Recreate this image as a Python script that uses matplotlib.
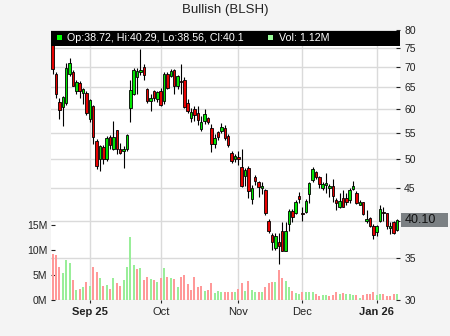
import matplotlib
matplotlib.use('Agg')
import matplotlib.pyplot as plt
import numpy as np
import pandas as pd
from matplotlib.patches import Rectangle
from matplotlib.ticker import NullLocator

plt.rcParams['font.family'] = ['Liberation Sans', 'DejaVu Sans']

# trading days shown (US market holidays removed)
holidays = ['2025-09-01', '2025-11-27', '2025-12-25', '2026-01-01']
dates = pd.bdate_range('2025-08-15', '2026-01-12', freq='C', holidays=holidays)

opens = [77, 68.3, 61.7, 60.4, 61.3, 68.2, 68.8, 64, 66, 63.7,
         63.6, 57.9, 60.6, 53.5, 50.1, 52.3, 50.1, 54.2, 52, 55.6,
         52, 51.5, 51.9, 60.2, 63.4, 67.4, 68.8, 70, 64.5, 61.8,
         64, 62.2, 64.1, 61.8, 68.3, 67.8, 69.1, 65.2, 66.5, 66.8,
         61.4, 58.1, 60.1, 59.2, 55.8, 57.5, 58.1, 56, 52.9, 55.2,
         55.5, 56.1, 54.4, 51.2, 50, 50.5, 48.7, 47.1, 48.4, 43.3,
         46.9, 46, 45, 44.7, 39.9, 38, 36.2, 37, 38.5, 35.9,
         39.6, 41.5, 41.2, 43.7, 41.2, 41.3, 44.1, 46.4, 47.7, 46.9,
         45, 45.6, 45.1, 45.4, 43.2, 42, 43.4, 43.4, 43.2, 44.9,
         44.3, 42.4, 42.8, 39.9, 40.4, 39.2, 38.4, 40, 41.3, 41.1,
         39, 39.8, 38.72]
highs = [79, 68.8, 62.5, 62.9, 71, 72.2, 69.3, 66.8, 66.5, 64.8,
         64, 62.3, 60.9, 53.8, 52.7, 52.6, 54.4, 54.6, 57.5, 55.7,
         53, 52.5, 54.9, 66.8, 69.7, 69.7, 74.7, 70.6, 64.9, 63.4,
         64.4, 64.2, 64.9, 68.6, 68.8, 69.4, 69.4, 68, 70.6, 67.4,
         62.2, 60.3, 60.7, 60.6, 58.6, 60.1, 58.4, 56.8, 54.8, 55.5,
         57, 56.6, 54.8, 51.6, 50.9, 51.6, 52, 48.4, 48.8, 45.6,
         47.3, 46.3, 46.1, 44.9, 40.3, 38.2, 38.2, 38.2, 39.8, 39.8,
         41.7, 41.8, 43.1, 44.4, 42, 43.3, 46.1, 48.7, 47.9, 47.1,
         46, 47.6, 45.7, 46.6, 43.4, 44.2, 44.8, 44.2, 45, 46.2,
         44.5, 43.1, 42.9, 41.6, 40.6, 39.5, 39.4, 42.4, 42, 41.2,
         39.8, 39.9, 40.29]
lows = [68.3, 62.5, 57.9, 56.5, 61, 67.8, 65.2, 63.4, 62.4, 61.1,
        58.7, 57.3, 52.9, 48.3, 47.9, 49.2, 49.7, 51.9, 51.7, 51,
        50.9, 48.5, 51.5, 57.2, 63.2, 63.4, 68, 66.6, 61.3, 59.6,
        61.8, 61.6, 60.7, 61.2, 64.6, 67.4, 63.4, 64.6, 63.4, 60.2,
        59.2, 57.2, 57.4, 56.6, 55.4, 56.9, 56.9, 51.3, 52.2, 53.6,
        55, 53.6, 52.3, 49.4, 49.6, 49, 45.3, 45.4, 43.4, 42.5,
        45.6, 43.6, 44.1, 40.9, 38.3, 36, 36, 34.2, 35.8, 35.9,
        38.6, 39.8, 41, 42.6, 39.9, 41.1, 42.7, 46.1, 46.6, 45,
        44.8, 44.2, 43.6, 42.9, 41.6, 41.9, 42, 42.3, 42.6, 44.7,
        42.5, 42.3, 40.9, 39.7, 39.1, 37.4, 37.9, 39.8, 39.9, 38.8,
        38.1, 38.1, 38.56]
closes = [69.5, 63.5, 59.8, 62.8, 69.7, 71, 65.3, 66.3, 64, 64.5,
          59.2, 62.1, 54.3, 48.9, 52.5, 50, 54.1, 52.7, 54.2, 51.9,
          51.2, 52, 54.6, 64.4, 69.3, 69.0, 69.2, 68, 61.8, 62.6,
          62.4, 63.8, 60.9, 68.2, 64.9, 68.9, 65.3, 67.6, 66.2, 60.5,
          59.7, 59.4, 58.7, 57.6, 57.2, 59, 57.3, 52.9, 54, 54.3,
          56.2, 54.1, 52.6, 49.7, 50.6, 50.1, 45.4, 48.1, 44.5, 45,
          46.3, 45.2, 45.4, 41.1, 38.6, 37, 37.9, 36.5, 35.9, 38.6,
          41.5, 40.5, 42.8, 43.3, 41, 43, 45.9, 48.3, 46.9, 45.7,
          45.8, 45.9, 45.4, 43.7, 42.7, 43, 42.1, 42.8, 44.7, 45.4,
          42.6, 42.9, 41, 40.3, 39.2, 38, 39.2, 41.8, 41.1, 39.3,
          39.25, 38.3, 40.1]
# volume in millions
volumes = [9.3, 9.1, 6.6, 5.5, 8.0, 7.5, 4.0, 2.1, 2.3, 2.6,
           3.6, 2.9, 6.6, 5.6, 4.4, 2.8, 3.0, 2.2, 4.4, 3.4,
           2.8, 4.0, 6.6, 12.6, 7.0, 6.2, 6.4, 4.0, 4.6, 4.2,
           4.0, 3.6, 4.4, 6.4, 4.6, 4.4, 4.2, 2.6, 4.6, 5.0,
           3.2, 2.0, 4.7, 2.6, 2.8, 1.8, 2.0, 3.4, 1.4, 1.8,
           1.6, 1.7, 1.6, 1.7, 1.7, 2.2, 3.5, 1.9, 3.8, 2.0,
           1.7, 1.6, 1.6, 2.6, 3.5, 3.6, 3.7, 6.0, 4.4, 3.9,
           2.7, 1.9, 1.5, 1.3, 1.7, 1.7, 1.7, 1.7, 1.2, 0.8,
           1.0, 1.0, 0.8, 1.0, 1.7, 1.2, 1.5, 1.2, 1.2, 1.0,
           1.0, 0.5, 1.0, 1.2, 1.2, 1.7, 1.1, 1.2, 1.3, 0.8,
           0.8, 1.2, 1.12]

price_ticks = [30, 35, 40, 45, 50, 55, 60, 65, 70, 75, 80]
vol_ticks = [0, 5, 10, 15]

x = np.arange(len(dates))
o = np.array(opens); h = np.array(highs); l = np.array(lows); c = np.array(closes)
up = c >= o
prev = np.r_[o[0], c[:-1]]
vol_up = c > prev

fig = plt.figure(figsize=(4.5, 3.36), dpi=100, facecolor='#f4f4f4')
ax = fig.add_axes([51/450, 36/336, 349/450, 270/336])
ax.set_facecolor('white')
axv = ax.twinx()   # volume axis (left side)

# candles
ax.vlines(x, l, h, color='black', lw=0.8, zorder=3)
ax.bar(x, np.abs(c - o), bottom=np.minimum(o, c), width=0.75,
       color=np.where(up, '#00e600', '#e60000'), edgecolor='black', lw=0.6, zorder=4)

ax.set_yscale('log')
ax.set_ylim(30, 80)
ax.set_xlim(-0.5, len(x) - 0.1)
ax.yaxis.tick_right()
ax.set_yticks(price_ticks)
ax.set_yticklabels([str(t) for t in price_ticks])
ax.yaxis.set_minor_locator(NullLocator())

# month ticks at first trading day of each month
months = dates.to_period('M')
first = np.where(np.r_[False, months[1:] != months[:-1]])[0]
labels = []
for k, i in enumerate(first):
    d = dates[i]
    if k == 0 or d.month == 1:
        labels.append(d.strftime('%b %y'))
    else:
        labels.append(d.strftime('%b'))
ax.set_xticks(first)
ax.set_xticklabels(labels)
for t in ax.get_xticklabels():
    if ' ' in t.get_text():
        t.set_fontweight('bold')

ax.grid(True, color='#dadada', lw=1, zorder=0)
ax.set_axisbelow(True)
ax.tick_params(axis='x', direction='out', length=2, labelsize=8, pad=3, colors='#222')
ax.tick_params(axis='y', direction='in', length=3, labelsize=7.5, pad=3, colors='#222')
for s in ax.spines.values():
    s.set_visible(False)

# volume bars
axv.bar(x, volumes, width=0.6, color=np.where(vol_up, '#99ee99', '#ff9999'), zorder=2)
axv.set_ylim(0, 54)
axv.yaxis.tick_left()
axv.set_yticks(vol_ticks)
axv.set_yticklabels([f'{v}M' for v in vol_ticks])
axv.tick_params(axis='y', direction='in', length=3, labelsize=7.5, pad=2.5, colors='#222')
for s in axv.spines.values():
    s.set_visible(False)
ax.yaxis.tick_right()

# legend strip at top
axv.add_patch(Rectangle((0, 0.9407), 1, 0.0556, transform=axv.transAxes,
                        fc='black', ec='none', zorder=10, clip_on=False))
axv.add_patch(Rectangle((0.0163, 0.963), 0.0152, 0.0196, transform=axv.transAxes,
                        fc='#00ff00', ec='none', zorder=11))
axv.text(0.0467, 0.9705, f'Op:{opens[-1]}, Hi:{highs[-1]}, Lo:{lows[-1]}, Cl:{closes[-1]}',
         transform=axv.transAxes, color='white', fontsize=7.7, va='center', ha='left', zorder=11)
axv.add_patch(Rectangle((0.6218, 0.963), 0.0152, 0.0196, transform=axv.transAxes,
                        fc='#98fb98', ec='none', zorder=11))
axv.text(0.654, 0.9705, f'Vol: {volumes[-1]:.2f}M', transform=axv.transAxes,
         color='white', fontsize=7.7, va='center', ha='left', zorder=11)

# last price box
tr = ax.get_yaxis_transform()
last = closes[-1]
ax.add_patch(Rectangle((1.003, last / 1.026), 0.135, last * 1.026 - last / 1.026,
                       transform=tr, fc='#7b8083', ec='none', clip_on=False, zorder=5))
ax.text(1.012, last, f'{last:.2f}', transform=tr, fontsize=9, color='#111',
        va='center', ha='left', zorder=6)

fig.text(0.5, 1 - 10/336, 'Bullish (BLSH)', ha='center', va='center', fontsize=9.5, color='#222')

fig.savefig('out.png', dpi=100, facecolor=fig.get_facecolor())
